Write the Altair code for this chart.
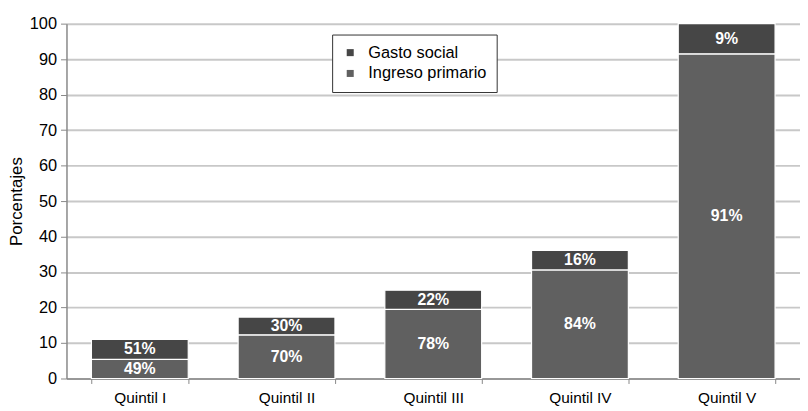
import altair as alt
import pandas as pd

quintiles = ["Quintil I", "Quintil II", "Quintil III", "Quintil IV", "Quintil V"]
series = ["Gasto social", "Ingreso primario"]
ingreso = [5.4, 12.3, 19.5, 30.6, 91.5]
gasto = [5.6, 5.0, 5.4, 5.5, 8.5]
pct_ingreso = ["49%", "70%", "78%", "84%", "91%"]
pct_gasto = ["51%", "30%", "22%", "16%", "9%"]
colors = ["#464646", "#606060"]
y_ticks = list(range(0, 101, 10))

rows = []
for q, v, p in zip(quintiles, ingreso, pct_ingreso):
    rows.append({"quintil": q, "serie": series[1], "valor": v, "pct": p, "orden": 0})
for q, v, p in zip(quintiles, gasto, pct_gasto):
    rows.append({"quintil": q, "serie": series[0], "valor": v, "pct": p, "orden": 1})
df = pd.DataFrame(rows)

font = "Liberation Sans"

base = alt.Chart(df).transform_stack(
    stack="valor", groupby=["quintil"], as_=["y0", "y1"],
    sort=[alt.SortField("orden", order="ascending")]
).transform_calculate(mid="(datum.y0 + datum.y1) / 2")

x = alt.X("quintil:N", sort=quintiles, title=None,
          scale=alt.Scale(paddingInner=0.34, paddingOuter=0.17),
          axis=alt.Axis(labelAngle=0, labelFontSize=15.5, labelColor="black",
                        labelFont=font, tickBand="extent", tickSize=5,
                        tickColor="#888888", domainColor="#888888",
                        domainWidth=1.5, labelPadding=7))

y_axis = alt.Axis(values=y_ticks, labelFontSize=16.5, labelOverlap=False,
                  labelColor="black", labelFont=font, titleFont=font,
                  titleFontSize=17, titleFontWeight="normal",
                  titleColor="black", titlePadding=4, tickSize=6,
                  labelPadding=4, tickColor="#888888",
                  domainColor="#888888", domainWidth=1.5,
                  gridColor="#c8c8c8", gridWidth=2)
y_scale = alt.Scale(domain=[0, 100])

bars = base.mark_bar(stroke="white", strokeWidth=1.2).encode(
    x=x,
    y=alt.Y("y0:Q", title="Porcentajes", scale=y_scale, axis=y_axis),
    y2="y1:Q",
    color=alt.Color("serie:N", scale=alt.Scale(domain=series, range=colors),
                    legend=alt.Legend(title=None, orient="none", legendX=268,
                                      legendY=11, strokeColor="#333333",
                                      fillColor="white", padding=10,
                                      symbolType="square", symbolSize=50,
                                      symbolStrokeWidth=0, labelFontSize=16.5,
                                      labelFont=font, labelColor="black",
                                      rowPadding=4, labelOffset=10)),
)

labels = base.mark_text(color="white", fontWeight="bold", fontSize=16,
                        font=font, baseline="middle").encode(
    x=alt.X("quintil:N", sort=quintiles),
    y=alt.Y("mid:Q", title="Porcentajes", scale=y_scale, axis=y_axis),
    text="pct:N",
)

chart = alt.layer(bars, labels).properties(
    width=740, height=358,
    autosize=alt.AutoSizeParams(type="none"),
    padding={"left": 59, "top": 14, "right": 0, "bottom": 30},
    background="white",
).configure_view(stroke=None)

chart.save("out.html", embed_options={"renderer": "svg", "actions": False})
